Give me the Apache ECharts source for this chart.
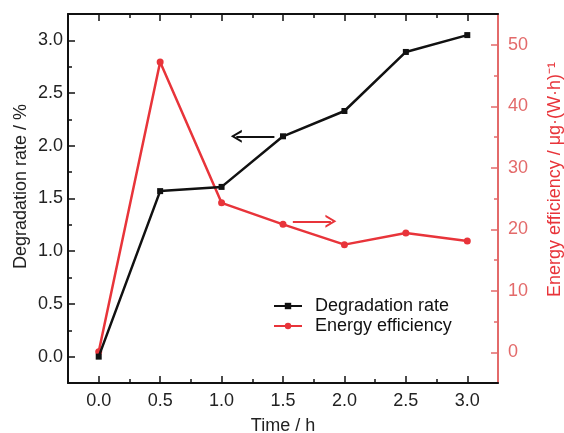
<!DOCTYPE html>
<html>
<head>
<meta charset="utf-8">
<script src="https://cdn.jsdelivr.net/npm/echarts@6/dist/echarts.min.js"></script>
<style>
  html, body { margin: 0; padding: 0; background: #fff; }
  #chart { width: 564px; height: 433px; }
</style>
</head>
<body>
<div id="chart"></div>
<script>
// time in hours
const times = [0, 0.5, 1.0, 1.5, 2.0, 2.5, 3.0];
// degradation rate, % (left axis)
const degradation = [0.0, 1.57, 1.61, 2.09, 2.33, 2.89, 3.05];
// energy efficiency, ug/(W*h) (right axis)
const efficiency = [0.1, 47.2, 24.3, 20.8, 17.5, 19.4, 18.1];

const xMajor = [0, 0.5, 1.0, 1.5, 2.0, 2.5, 3.0];
const xMinor = [0.25, 0.75, 1.25, 1.75, 2.25, 2.75];
const yLeftMajor = [0, 0.5, 1.0, 1.5, 2.0, 2.5, 3.0];
const yLeftMinor = [0.25, 0.75, 1.25, 1.75, 2.25, 2.75];
const yRightMajor = [0, 10, 20, 30, 40, 50];
const yRightMinor = [5, 15, 25, 35, 45];

const RED = '#e8343a';
const RED_AXIS = '#e36a6a';
const FONT = '"Liberation Sans", Arial, sans-serif';

const chart = echarts.init(document.getElementById('chart'));

// open chevron pointing "up", rotated by markLine along the line
const chevron = 'path://M0,10 L5,0 L10,10 L8.2,10 L5,3.4 L1.8,10 Z';

function tickAxis(base, ticks, len, showLine, color) {
  return Object.assign({
    axisLine: { show: showLine, onZero: false, lineStyle: { color: color, width: 2 } },
    axisTick: { show: true, inside: true, length: len, customValues: ticks, lineStyle: { color: color, width: 1.5 } },
    axisLabel: { show: false },
    splitLine: { show: false }
  }, base);
}

const xBase = { type: 'value', min: -0.25, max: 3.25 };
const xAxes = [
  Object.assign({}, xBase, {
    position: 'bottom',
    name: 'Time / h',
    nameLocation: 'middle',
    nameGap: 34,
    nameTextStyle: { fontFamily: FONT, fontSize: 18, color: '#222' },
    axisLine: { show: true, onZero: false, lineStyle: { color: '#111', width: 2 } },
    axisTick: { show: true, inside: true, length: 7, customValues: xMajor, lineStyle: { color: '#111', width: 1.5 } },
    axisLabel: { customValues: xMajor, formatter: v => v.toFixed(1), margin: 9, fontFamily: FONT, fontSize: 18, color: '#222' },
    splitLine: { show: false }
  }),
  tickAxis(Object.assign({}, xBase, { position: 'bottom' }), xMinor, 4, false, '#111'),
  tickAxis(Object.assign({}, xBase, { position: 'top' }), xMajor, 7, true, '#111'),
  tickAxis(Object.assign({}, xBase, { position: 'top' }), xMinor, 4, false, '#111')
];

const yAxes = [
  {
    type: 'value', position: 'left', min: -0.25, max: 3.25,
    name: 'Degradation rate / %',
    nameLocation: 'middle',
    nameGap: 38,
    nameMoveOverlap: false,
    nameTextStyle: { fontFamily: FONT, fontSize: 18, color: '#222', padding: [0, 0, 0, 24] },
    axisLine: { show: true, onZero: false, lineStyle: { color: '#111', width: 2 } },
    axisTick: { show: true, inside: true, length: 7, customValues: yLeftMajor, lineStyle: { color: '#111', width: 1.5 } },
    axisLabel: { customValues: yLeftMajor, formatter: v => v.toFixed(1), margin: 5, fontFamily: FONT, fontSize: 18, color: '#222' },
    splitLine: { show: false }
  },
  tickAxis({ type: 'value', position: 'left', min: -0.25, max: 3.25 }, yLeftMinor, 4, false, '#111'),
  {
    type: 'value', position: 'right', min: -5, max: 55,
    name: 'Energy efficiency / \u03bcg\u00b7(W\u00b7h)\u207b\u00b9',
    nameLocation: 'middle',
    nameGap: 48,
    nameTextStyle: { fontFamily: FONT, fontSize: 18, color: RED, padding: [0, 0, 0, 38] },
    axisLine: { show: true, onZero: false, lineStyle: { color: RED_AXIS, width: 2 } },
    axisTick: { show: true, inside: true, length: 7, customValues: yRightMajor, lineStyle: { color: RED_AXIS, width: 1.5 } },
    axisLabel: { customValues: yRightMajor, margin: 10, fontFamily: FONT, fontSize: 18, color: RED_AXIS },
    splitLine: { show: false }
  },
  tickAxis({ type: 'value', position: 'right', min: -5, max: 55 }, yRightMinor, 4, false, RED_AXIS)
];

chart.setOption({
  animation: false,
  grid: { left: 68, right: 66, top: 14, bottom: 50, containLabel: false, outerBoundsMode: 'none' },
  xAxis: xAxes,
  yAxis: yAxes,
  legend: {
    orient: 'vertical',
    left: 268,
    top: 292,
    itemWidth: 28,
    itemHeight: 8,
    itemGap: 2,
    textStyle: { fontFamily: FONT, fontSize: 18, color: '#111', padding: [0, 0, 0, 8] },
    data: ['Degradation rate', 'Energy efficiency']
  },
  series: [
    {
      name: 'Degradation rate',
      type: 'line',
      xAxisIndex: 0,
      yAxisIndex: 0,
      data: times.map((t, i) => [t, degradation[i]]),
      symbol: 'rect',
      symbolSize: 6,
      itemStyle: { color: '#111' },
      lineStyle: { color: '#111', width: 2.5 },
      z: 3,
      markLine: {
        silent: true,
        symbol: ['none', chevron],
        symbolSize: [13, 11],
        label: { show: false },
        lineStyle: { color: '#111', width: 2, type: 'solid' },
        data: [[{ coord: [1.43, 2.09] }, { coord: [1.12, 2.09] }]]
      }
    },
    {
      name: 'Energy efficiency',
      type: 'line',
      xAxisIndex: 0,
      yAxisIndex: 2,
      data: times.map((t, i) => [t, efficiency[i]]),
      symbol: 'circle',
      symbolSize: 7,
      itemStyle: { color: RED },
      lineStyle: { color: RED, width: 2.5 },
      z: 2,
      markLine: {
        silent: true,
        symbol: ['none', chevron],
        symbolSize: [13, 11],
        label: { show: false },
        lineStyle: { color: RED, width: 2, type: 'solid' },
        data: [[{ coord: [1.58, 21.3] }, { coord: [1.89, 21.3] }]]
      }
    }
  ]
});
</script>
</body>
</html>
